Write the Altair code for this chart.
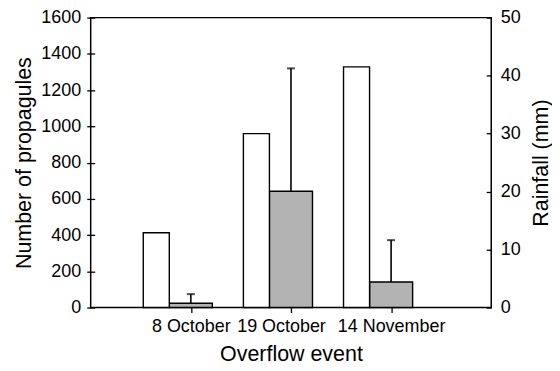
import altair as alt
import pandas as pd

events = ["8 October", "19 October", "14 November"]
rainfall_mm = [12.9, 30.0, 41.5]
propagules = [24, 642, 141]
propagules_err_top = [74, 1320, 372]

df = pd.DataFrame({
    "idx": [1, 2, 3],
    "event": events,
    "rain": rainfall_mm,
    "prop": propagules,
    "errtop": propagules_err_top,
})

FONT = "Liberation Sans"
label_expr = "datum.value == 1 ? '8 October' : datum.value == 2 ? '19 October' : datum.value == 3 ? '14 November' : ''"

LBL = 18
TTL = 21.5

xscale = alt.Scale(domain=[0, 4], nice=False, zero=False)
xaxis = alt.Axis(values=[1, 2, 3], labelExpr=label_expr, title="Overflow event",
                 grid=False, domain=False, tickSize=5, tickColor="black", tickWidth=1.3,
                 labelFontSize=LBL, titleFontSize=TTL, labelColor="black",
                 titleColor="black", titleFontWeight="normal", labelPadding=5,
                 labelOffset={"condition": {"test": "datum.value == 2", "value": -10}, "value": 0},
                 titlePadding=8, labelFont=FONT, titleFont=FONT, labelOverlap=False)

yscale_left = alt.Scale(domain=[0, 1600], nice=False)
yaxis_left = alt.Axis(orient="left", values=list(range(0, 1601, 200)), format="d",
                      title="Number of propagules", grid=False, domain=False,
                      offset=-4, tickSize=8, tickColor="black", tickWidth=1.3,
                      labelPadding=6, labelFontSize=LBL, titleFontSize=TTL,
                      labelColor="black", titleColor="black", labelOverlap=False,
                      titleFontWeight="normal", titlePadding=5,
                      labelFont=FONT, titleFont=FONT)

base = alt.Chart(df)

gray = base.transform_calculate(
    xl="datum.idx - 0.215", xr="datum.idx + 0.215"
).mark_rect(fill="#b3b3b3", stroke="black", strokeWidth=1.4).encode(
    x=alt.X("xl:Q", scale=xscale, axis=xaxis),
    x2="xr:Q",
    y=alt.Y("prop:Q", scale=yscale_left, axis=yaxis_left),
    y2=alt.datum(0),
)

errline = base.mark_rule(color="black", strokeWidth=1.6).encode(
    x=alt.X("idx:Q", scale=xscale, axis=xaxis),
    y=alt.Y("prop:Q", scale=yscale_left, axis=yaxis_left),
    y2="errtop:Q",
)
errcap = base.mark_tick(color="black", orient="horizontal", size=8, thickness=2).encode(
    x=alt.X("idx:Q", scale=xscale, axis=xaxis),
    y=alt.Y("errtop:Q", scale=yscale_left, axis=yaxis_left),
)

left = alt.layer(gray, errline, errcap)

white = base.transform_calculate(
    xl="datum.idx - 0.475", xr="datum.idx - 0.215"
).mark_rect(fill="white", stroke="black", strokeWidth=1.4).encode(
    x=alt.X("xl:Q", scale=xscale, axis=xaxis),
    x2="xr:Q",
    y=alt.Y("rain:Q",
            scale=alt.Scale(domain=[0, 50], nice=False),
            axis=alt.Axis(orient="right", values=list(range(0, 51, 10)), format="d",
                          title="Rainfall (mm)", grid=False, domain=False,
                          offset=-5, tickSize=5, tickColor="black", tickWidth=1.3,
                          labelPadding=9, labelFontSize=LBL, titleFontSize=TTL,
                          labelColor="black", titleColor="black", labelOverlap=False,
                          titleFontWeight="normal", titlePadding=10, titleAngle=270,
                          titleBaseline="top",
                          labelFont=FONT, titleFont=FONT)),
    y2=alt.datum(0),
)

chart = alt.layer(left, white).resolve_scale(y="independent").properties(
    width=402, height=291,
    padding={"left": 5, "top": 0, "right": 0, "bottom": 0},
).configure_view(stroke="black", strokeWidth=1.5)

chart.save("out.html", embed_options={"renderer": "svg", "actions": False})
